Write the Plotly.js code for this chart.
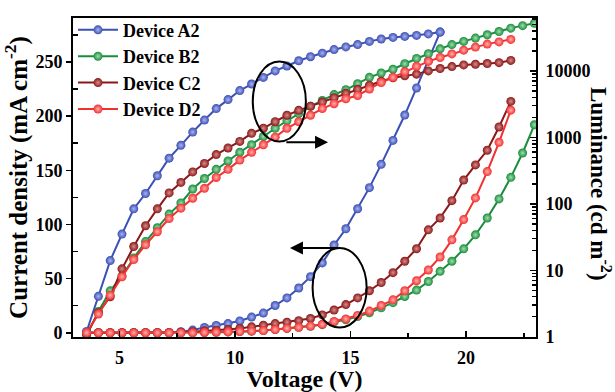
<!DOCTYPE html>
<html>
<head>
<meta charset="utf-8">
<script src="https://cdn.plot.ly/plotly-3.0.1.min.js"></script>
<style>html,body{margin:0;padding:0;background:#fff;}#chart{width:615px;height:392px;}</style>
</head>
<body>
<div id="chart"></div>
<script>
// Voltage values (V)
const voltage = [3.58,4.09,4.60,5.11,5.62,6.13,6.64,7.15,7.66,8.17,8.68,9.19,9.70,10.21,10.72,11.23,11.74,12.25,12.76,13.27,13.78,14.29,14.80,15.31,15.82,16.33,16.84,17.35,17.86,18.37,18.88,19.39,19.90,20.41,20.92,21.43,21.94,22.45,22.96];

const deviceNames = ["Device A2","Device B2","Device C2","Device D2"];
const deviceColors = ["#3b4fb5","#1b8c3d","#8a1818","#f2302f"];
const deviceHighlights = ["#a9b4ee","#9fe0ad","#d98c8c","#ffb0ae"];

// Current density (mA cm^-2), left axis
const currentA2 = [0,0,0,0,0,0,0,0.3,1,2.5,4.9,6.7,8.5,10.9,14.5,18.2,25.2,32.2,41.3,51.8,64.5,81,96,114.5,134,155.5,177.6,201,226,251,277.6];
const currentB2 = [0,0,0,0,0,0,0,0,0,0,0.3,0.5,0.8,1.1,1.5,2,3,4,5,6,7.5,10,12,15,18.5,23,27.8,33.5,39.4,47.3,56.7,66,77.5,90.4,106,123.6,143.5,166,192];
const currentC2 = [0,0,0,0,0,0,0,0,0.5,1,1.8,2.4,3,4,5.5,7,8.5,9.8,11.2,13.2,16.5,21,26,32.2,38.8,46.4,55.5,66,77.6,95,106,122,141,155,168.5,190,213.6];
const currentD2 = [0,0,0,0,0,0,0,0,0,0,0.3,0.5,0.8,1.1,1.5,2,3,4,5,6.2,7.8,10.5,12.8,16,20,25.2,30.4,38.8,48,58,70,85.8,104.5,124.5,148.8,175.8,205.5];

// Luminance (cd m^-2), right log axis
const lumA2 = [1.2,4.05,14,35,84,143,264,487,759,1200,1820,2710,3700,5060,6350,7980,10000,11860,14200,16350,18500,20950,22960,24880,27800,30200,31900,33000,34200,36000,38400];
const lumB2 = [1.05,2.4,4.9,8.2,15.3,27,43.6,70,103,167,240,330,440,597,774,1030,1370,1780,2285,2930,3590,4400,5200,6400,8000,9300,10600,12800,15400,18100,21500,24900,27800,31200,35000,39100,44000,48000,52100];
const lumC2 = [1.1,2.3,4.0,10.5,22.8,46.7,84,146,210,302,405,550,692,869,1150,1370,1720,2150,2550,2950,3400,3950,4600,5300,6100,7000,7900,8430,8940,10000,10850,11600,12300,12600,12900,13300,14400];
const lumD2 = [1.15,2.2,4.2,8,14.5,24.2,38,60,86,121,171,249,330,455,597,774,1007,1370,1720,2150,2710,3210,3810,4270,5350,6700,8000,9700,11700,13900,15900,18000,20500,22800,25300,27300,29800];

const currents = [currentA2,currentB2,currentC2,currentD2];
const lums = [lumA2,lumB2,lumC2,lumD2];

const traces = [];
function mk(i, ys, axis, show){
  return {
    x: voltage.slice(0, ys.length), y: ys, yaxis: axis,
    type: 'scatter', mode: 'lines+markers', name: deviceNames[i],
    legendgroup: deviceNames[i], showlegend: show,
    line: {color: deviceColors[i], width: 2},
    marker: {size: 9, color: deviceColors[i], line: {width: 0},
             gradient: {type: 'radial', color: deviceHighlights[i]}},
    cliponaxis: true
  };
}
for (let i = 0; i < 4; i++) traces.push(mk(i, currents[i], 'y', true));
for (let i = 0; i < 4; i++) traces.push(mk(i, lums[i], 'y2', false));

const F = "Liberation Serif, Times New Roman, serif";
const layout = {
  width: 615, height: 392,
  margin: {l: 73, r: 79, t: 13, b: 55, pad: 0},
  paper_bgcolor: '#fff', plot_bgcolor: '#fff',
  font: {family: F, color: '#000', size: 18, weight: 'bold'},
  showlegend: true,
  legend: {x: 0.0, y: 1.02, xanchor: 'left', yanchor: 'top', bgcolor: 'rgba(0,0,0,0)',
           itemwidth: 40,
           font: {family: F, size: 18, weight: 'bold', color: '#000'}, tracegroupgap: 0},
  xaxis: {
    range: [2.99, 23.03], showgrid: false, zeroline: false,
    showline: true, linecolor: '#000', linewidth: 2, mirror: true,
    ticks: 'inside', ticklen: 6, tickwidth: 1.5, tickcolor: '#000',
    tickvals: [5,10,15,20], ticktext: ['5','10','15','20'],
    minor: {tickvals: [7.5,12.5,17.5,22.5], ticks: 'inside', ticklen: 4, tickcolor: '#000'},
    tickfont: {family: F, size: 18, weight: 'bold'},
    ticklabelstandoff: 3,
    title: {text: 'Voltage (V)', font: {family: F, size: 24, weight: 'bold'}, standoff: 6}
  },
  yaxis: {
    range: [-3.9, 290.6], showgrid: false, zeroline: false,
    showline: true, linecolor: '#000', linewidth: 2,
    ticks: 'outside', ticklen: 5, tickwidth: 1.5, tickcolor: '#000',
    tickvals: [0,50,100,150,200,250],
    minor: {tickvals: [25,75,125,175,225,275], ticks: 'inside', ticklen: 5, tickcolor: '#000'},
    tickfont: {family: F, size: 18, weight: 'bold'},
    title: {text: 'Current density (mA cm<sup>-2</sup>)', font: {family: F, size: 25, weight: 'bold'}, standoff: 4}
  },
  yaxis2: {
    overlaying: 'y', side: 'right', type: 'log', range: [-0.004, 4.796],
    showgrid: false, zeroline: false,
    showline: true, linecolor: '#000', linewidth: 2,
    ticks: 'inside', ticklen: 6, tickwidth: 1.5, tickcolor: '#000',
    tickvals: [1,10,100,1000,10000], ticktext: ['1','10','100','1000','10000'],
    minor: {dtick: 'D1', ticks: 'inside', ticklen: 4, tickcolor: '#000'},
    tickfont: {family: F, size: 18, weight: 'bold'},
    ticklabelstandoff: 4
  },
  shapes: [
    {type: 'circle', xref: 'x', yref: 'y', x0: 10.77, x1: 13.07, y0: 176.7, y1: 250.4, line: {color: '#000', width: 2}},
    {type: 'circle', xref: 'x', yref: 'y', x0: 13.36, x1: 15.70, y0: 4.9, y1: 78.2, line: {color: '#000', width: 2}}
  ],
  annotations: [
    {xref: 'x', yref: 'y', axref: 'x', ayref: 'y', x: 14.03, y: 176, ax: 12.16, ay: 176,
     text: '', showarrow: true, arrowhead: 2, arrowsize: 1.3, arrowwidth: 2, arrowcolor: '#000'},
    {xref: 'x', yref: 'y', axref: 'x', ayref: 'y', x: 12.38, y: 78.2, ax: 14.55, ay: 78.2,
     text: '', showarrow: true, arrowhead: 2, arrowsize: 1.3, arrowwidth: 2, arrowcolor: '#000'},
    {xref: 'paper', yref: 'paper', x: 1.138, y: 0.48, xanchor: 'center', yanchor: 'middle',
     text: 'Luminance (cd m<sup>-2</sup>)', textangle: 90, showarrow: false,
     font: {family: F, size: 23, weight: 'bold', color: '#000'}}
  ]
};
Plotly.newPlot('chart', traces, layout, {displayModeBar: false, staticPlot: true});
</script>
</body>
</html>
